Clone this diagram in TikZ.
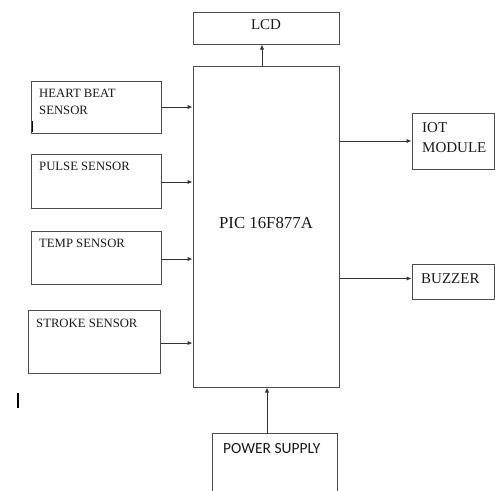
\documentclass[tikz,border=0pt]{standalone}
\usepackage{fontspec}
\setmainfont{Liberation Serif}
\newfontfamily\psfont{Carlito}
\usetikzlibrary{arrows.meta}
\tikzset{
  x=1pt, y=-1pt,
  blk/.style={draw=black!70, line width=1pt, inner sep=0pt, fill=none},
  lbl/.style={inner sep=0pt, text=black!90, align=left},
  arr/.style={draw=black!80, line width=1pt, -{Latex[length=5pt,width=4.5pt]}},
  smallf/.style={font=\fontsize{12.7}{17}\selectfont},
  medf/.style={font=\fontsize{15}{20}\selectfont},
}
\begin{document}
\begin{tikzpicture}
\clip (0,0) rectangle (495,490);
\fill[white] (0,0) rectangle (495,490);
% boxes
\node[blk, minimum width=146pt, minimum height=32pt] (lcd) at (266,28) {};
\node[blk, minimum width=146pt, minimum height=321pt] (pic) at (266,226.5) {};
\node[blk, minimum width=130pt, minimum height=52pt] (heart) at (96,107) {};
\node[blk, minimum width=130pt, minimum height=54pt] (pulse) at (96,181) {};
\node[blk, minimum width=130pt, minimum height=53pt] (temp) at (96,257.5) {};
\node[blk, minimum width=132pt, minimum height=63pt] (stroke) at (94,341.5) {};
\node[blk, minimum width=82pt, minimum height=56pt] (iot) at (453,141) {};
\node[blk, minimum width=82pt, minimum height=35pt] (buzzer) at (453,281.5) {};
\node[blk, minimum width=125pt, minimum height=80pt] (power) at (274.5,473) {};
% texts
\node[lbl, medf] (tlcd) at (266,25) {LCD};
\node[lbl, font=\fontsize{16.8}{20}\selectfont] (tpic) at (266,223) {PIC 16F877A};
\node[lbl, smallf, anchor=north west] (theart) at (39,89) {HEART BEAT\\SENSOR};
\node[lbl, smallf, anchor=north west] (tpulse) at (39,161.7) {PULSE SENSOR};
\node[lbl, smallf, anchor=north west] (ttemp) at (39,238.7) {TEMP SENSOR};
\node[lbl, smallf, anchor=north west] (tstroke) at (36,318.7) {STROKE SENSOR};
\node[lbl, medf, anchor=north west] (tiot) at (422,122) {IOT\\MODULE};
\node[lbl, medf, anchor=north west] (tbuzzer) at (421,273) {BUZZER};
\node[lbl, font=\psfont\fontsize{15.5}{18}\selectfont, anchor=west] (tpower) at (223,449) {POWER SUPPLY};
% connector end points
\coordinate (lcdin) at ([xshift=-4pt]lcd.south);
\coordinate (pulseout) at ([yshift=-1pt]pulse.east);
\coordinate (tempout) at ([yshift=-1.5pt]temp.east);
\coordinate (strokeout) at ([yshift=-1.5pt]stroke.east);
\coordinate (buzzin) at ([yshift=3pt]buzzer.west);
\coordinate (powerout) at ([xshift=-7.5pt]power.north);
% connectors
\draw[arr] (pic.north -| lcdin) -- (lcdin);
\draw[arr] (heart.east) -- (pic.west |- heart.east);
\draw[arr] (pulseout) -- (pic.west |- pulseout);
\draw[arr] (tempout) -- (pic.west |- tempout);
\draw[arr] (strokeout) -- (pic.west |- strokeout);
\draw[arr] (pic.east |- iot.west) -- (iot.west);
\draw[arr] (pic.east |- buzzin) -- (buzzin);
\draw[arr] (powerout) -- (pic.south -| powerout);
% cursor marks
\draw[black, line width=1.8pt] (18,393) -- (18,408);
\draw[black, line width=1.8pt] (32.5,121) -- (32.5,132);
\end{tikzpicture}
\end{document}
